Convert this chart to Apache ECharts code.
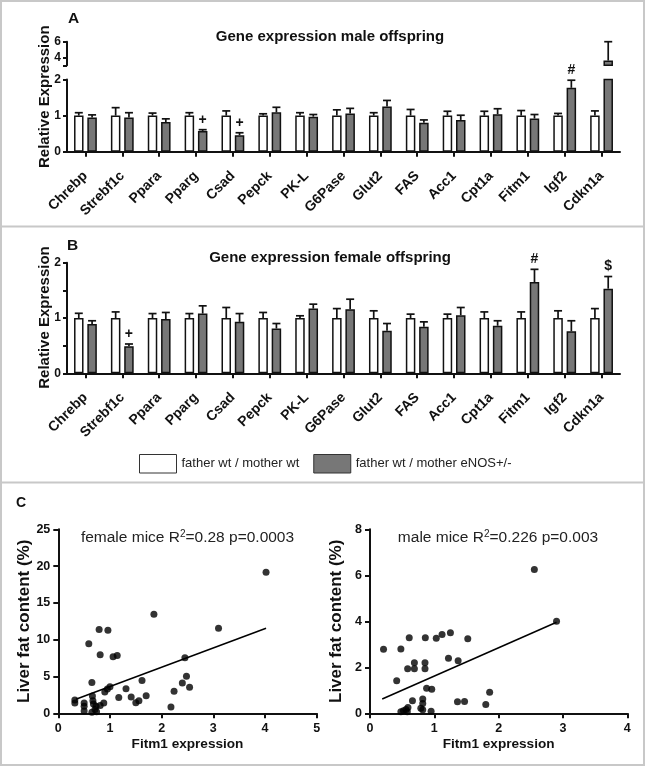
<!DOCTYPE html>
<html><head><meta charset="utf-8">
<script src="https://cdn.jsdelivr.net/npm/echarts@6/dist/echarts.min.js"></script>
<style>html,body{margin:0;padding:0;background:#fff}#c{width:646px;height:768px}</style>
</head><body><div id="c"></div>
<script>
// ---------- DATA ----------
const genes = ['Chrebp','Strebf1c','Ppara','Pparg','Csad','Pepck','PK-L','G6Pase','Glut2','FAS','Acc1','Cpt1a','Fitm1','Igf2','Cdkn1a'];
const seriesNames = ['father wt / mother wt', 'father wt / mother eNOS+/-'];

// Panel A: male offspring (mean and top of error bar)
const maleWt       = [1,1,1,1,1,1,1,1,1,1,1,1,1,1,1];
const maleWtErr    = [1.08,1.22,1.07,1.08,1.13,1.05,1.08,1.16,1.08,1.17,1.12,1.12,1.14,1.06,1.13];
const maleEnos     = [0.95,0.95,0.82,0.575,0.455,1.09,0.97,1.06,1.25,0.80,0.88,1.04,0.92,1.77,3.6];
const maleEnosErr  = [1.02,1.08,0.91,0.61,0.525,1.23,1.03,1.20,1.42,0.88,1.01,1.19,1.03,1.98,6.0];
const maleSig      = ['','','','+','+','','','','','','','','','#',''];

// Panel B: female offspring
const femaleWt      = [1,1,1,1,1,1,1,1,1,1,1,1,1,1,1];
const femaleWtErr   = [1.085,1.11,1.08,1.08,1.19,1.10,1.04,1.17,1.13,1.07,1.07,1.11,1.11,1.13,1.17];
const femaleEnos    = [0.89,0.49,0.98,1.08,0.93,0.81,1.17,1.16,0.77,0.84,1.05,0.86,1.65,0.76,1.53];
const femaleEnosErr = [0.95,0.53,1.10,1.22,1.08,0.90,1.25,1.34,0.90,0.93,1.19,0.95,1.88,0.95,1.75];
const femaleSig     = ['','+','','','','','','','','','','','#','','$'];

// Axis ticks
const aLowerTicks = [0,1,2];
const aUpperTicks = [3,4,6];
const aUpperLabels = [4,6];

// Panel C: scatter, Fitm1 expression vs liver fat content
const femaleX = [0.32,0.32,0.50,0.50,0.50,0.59,0.65,0.66,0.67,0.68,0.71,0.65,0.73,0.74,0.79,0.81,0.81,0.88,0.90,0.95,0.96,1.00,1.06,1.14,1.17,1.31,1.41,1.50,1.56,1.62,1.70,1.85,2.18,2.24,2.40,2.45,2.48,2.54,3.10,4.02];
const femaleY = [1.80,1.40,1.40,0.95,0.30,9.45,4.20,2.35,1.70,1.25,0.50,0.15,0.95,0.20,11.40,7.95,1.05,1.40,2.90,3.30,11.30,3.60,7.70,7.85,2.15,3.35,2.20,1.45,1.70,4.45,2.40,13.45,0.85,3.00,4.10,7.55,5.05,3.55,11.55,19.15];
const femaleFitX = [0.34, 4.02];
const femaleFitY = [1.90, 11.55];

const maleX = [0.21,0.48,0.61,0.86,1.03,1.12,1.25,1.52,1.22,1.37,0.69,0.69,0.585,0.855,0.855,0.415,0.88,0.96,0.66,0.82,0.82,1.36,1.47,1.86,1.80,0.79,0.82,0.48,0.52,0.56,0.59,0.58,0.95,2.555,2.90];
const maleY = [2.78,2.80,3.29,3.29,3.26,3.43,3.50,3.24,2.39,2.29,2.20,1.94,1.94,2.20,1.94,1.42,1.09,1.05,0.55,0.62,0.43,0.50,0.51,0.91,0.38,0.22,0.15,0.07,0.11,0.17,0.25,0.07,0.09,6.25,4.00];
const maleFitX = [0.19, 2.90];
const maleFitY = [0.62, 3.96];

// ---------- STYLE ----------
const FF = '"Liberation Sans", Arial, Helvetica, sans-serif';
const INK = '#111';
const GREY = '#777';
const BAR_W = 9.5;
const OFFSET = 6.65;

const chart = echarts.init(document.getElementById('c'), null, {renderer: 'canvas'});

function barSeries(name, idx, values, color) {
  return {
    name, type: 'bar', xAxisIndex: idx, yAxisIndex: idx,
    data: values, barWidth: BAR_W, barGap: '40%', clip: true,
    itemStyle: {color, borderColor: INK, borderWidth: 1.5},
    emphasis: {disabled: true}, z: 3
  };
}

function errSeries(idx, means, errs, sigs, offset) {
  return {
    type: 'custom', xAxisIndex: idx, yAxisIndex: idx, z: 4,
    data: means.map((m, i) => [i, m, errs[i]]),
    renderItem(params, api) {
      const i = api.value(0), m = api.value(1), e = api.value(2);
      const cs = params.coordSys;
      const top = cs.y, bottom = cs.y + cs.height;
      const p0 = api.coord([i, m]), p1 = api.coord([i, e]);
      const x = p0[0] + offset;
      let y0 = p0[1];
      const y1 = p1[1];
      if (y0 < top - 0.5) return null;
      if (y1 > bottom) return null;
      y0 = Math.min(y0, bottom);
      const st = {stroke: INK, lineWidth: 1.7};
      const children = [
        {type: 'line', shape: {x1: x, y1: y0, x2: x, y2: y1}, style: st},
        {type: 'line', shape: {x1: x - 4, y1: y1, x2: x + 4, y2: y1}, style: st}
      ];
      if (sigs && sigs[i]) {
        children.push({type: 'text', x: x, y: y1 - 10,
          style: {text: sigs[i], fontSize: 14, fontWeight: 'bold', fontFamily: FF, fill: INK, align: 'center', verticalAlign: 'middle'}});
      }
      return {type: 'group', children};
    }
  };
}

const axisLineStyle = {show: true, lineStyle: {color: INK, width: 2}};
const tickStyle = (len) => ({show: true, length: len, lineStyle: {color: INK, width: 2}});

function catAxis(idx) {
  return {
    gridIndex: idx, type: 'category', data: genes,
    axisLine: axisLineStyle, axisTick: Object.assign(tickStyle(5), {alignWithLabel: true}),
    axisLabel: {rotate: 45, margin: 22, interval: 0, fontSize: 14, fontWeight: 'bold', fontFamily: FF, color: INK},
    splitLine: {show: false}
  };
}

const option = {
  animation: false,
  backgroundColor: '#fff',
  textStyle: {fontFamily: FF},
  grid: [
    {left: 67, top: 79.5, width: 553, height: 72.2},
    {left: 67, top: 41.7, width: 553, height: 23.6},
    {left: 67, top: 262.7, width: 553, height: 110.6},
    {left: 58.3, top: 529.3, width: 258.4, height: 184},
    {left: 370, top: 529.3, width: 257.3, height: 184}
  ],
  legend: {
    data: seriesNames, left: 139, top: 454, padding: 0, itemWidth: 37, itemHeight: 18.5, itemGap: 14,
    icon: 'rect', selectedMode: false,
    itemStyle: {borderWidth: 1, borderColor: '#333'},
    textStyle: {fontSize: 13, fontFamily: FF, color: '#222'}
  },
  xAxis: [
    catAxis(0),
    {gridIndex: 1, type: 'category', data: genes, show: false},
    catAxis(2),
    {gridIndex: 3, type: 'value', min: 0, max: 5, interval: 1,
      axisLine: axisLineStyle, axisTick: tickStyle(5), splitLine: {show: false},
      axisLabel: {margin: 9, fontSize: 12.5, fontWeight: 'bold', fontFamily: FF, color: INK},
      name: 'Fitm1 expression', nameLocation: 'middle', nameGap: 24,
      nameTextStyle: {fontSize: 13.6, fontWeight: 'bold', fontFamily: FF, color: INK}},
    {gridIndex: 4, type: 'value', min: 0, max: 4, interval: 1,
      axisLine: axisLineStyle, axisTick: tickStyle(5), splitLine: {show: false},
      axisLabel: {margin: 9, fontSize: 12.5, fontWeight: 'bold', fontFamily: FF, color: INK},
      name: 'Fitm1 expression', nameLocation: 'middle', nameGap: 24,
      nameTextStyle: {fontSize: 13.6, fontWeight: 'bold', fontFamily: FF, color: INK}}
  ],
  yAxis: [
    {gridIndex: 0, type: 'value', min: 0, max: 2, interval: 1,
      axisLine: axisLineStyle, axisTick: Object.assign(tickStyle(4), {customValues: aLowerTicks}), splitLine: {show: false},
      axisLabel: {customValues: aLowerTicks, margin: 6, fontSize: 12, fontWeight: 'bold', fontFamily: FF, color: INK}},
    {gridIndex: 1, type: 'value', min: 3, max: 6,
      axisLine: axisLineStyle, axisTick: Object.assign(tickStyle(4), {customValues: aUpperTicks}), splitLine: {show: false},
      axisLabel: {customValues: aUpperLabels, margin: 6, fontSize: 12, fontWeight: 'bold', fontFamily: FF, color: INK}},
    {gridIndex: 2, type: 'value', min: 0, max: 2, interval: 0.5,
      axisLine: axisLineStyle, axisTick: tickStyle(4), splitLine: {show: false},
      axisLabel: {margin: 6, fontSize: 12, fontWeight: 'bold', fontFamily: FF, color: INK,
        formatter: v => (Number.isInteger(v) ? String(v) : '')}},
    {gridIndex: 3, type: 'value', min: 0, max: 25, interval: 5,
      axisLine: axisLineStyle, axisTick: tickStyle(5), splitLine: {show: false},
      axisLabel: {margin: 8, fontSize: 12.5, fontWeight: 'bold', fontFamily: FF, color: INK},
      name: 'Liver fat content (%)', nameLocation: 'middle', nameGap: 25,
      nameTextStyle: {fontSize: 17, fontWeight: 'bold', fontFamily: FF, color: INK}},
    {gridIndex: 4, type: 'value', min: 0, max: 8, interval: 2,
      axisLine: axisLineStyle, axisTick: tickStyle(5), splitLine: {show: false},
      axisLabel: {margin: 8, fontSize: 12.5, fontWeight: 'bold', fontFamily: FF, color: INK},
      name: 'Liver fat content (%)', nameLocation: 'middle', nameGap: 25,
      nameTextStyle: {fontSize: 17, fontWeight: 'bold', fontFamily: FF, color: INK}}
  ],
  series: [
    barSeries(seriesNames[0], 0, maleWt, '#fff'),
    barSeries(seriesNames[1], 0, maleEnos, GREY),
    barSeries(seriesNames[0], 1, maleWt, '#fff'),
    barSeries(seriesNames[1], 1, maleEnos, GREY),
    barSeries(seriesNames[0], 2, femaleWt, '#fff'),
    barSeries(seriesNames[1], 2, femaleEnos, GREY),
    errSeries(0, maleWt, maleWtErr, null, -OFFSET),
    errSeries(0, maleEnos, maleEnosErr, maleSig, OFFSET),
    errSeries(1, maleEnos, maleEnosErr, maleSig, OFFSET),
    errSeries(2, femaleWt, femaleWtErr, null, -OFFSET),
    errSeries(2, femaleEnos, femaleEnosErr, femaleSig, OFFSET),
    {type: 'scatter', xAxisIndex: 3, yAxisIndex: 3, symbolSize: 7, itemStyle: {color: '#000'},
      data: femaleX.map((x, i) => [x, femaleY[i]])},
    {type: 'line', xAxisIndex: 3, yAxisIndex: 3, symbol: 'none', lineStyle: {color: '#000', width: 1.5},
      data: femaleFitX.map((x, i) => [x, femaleFitY[i]])},
    {type: 'scatter', xAxisIndex: 4, yAxisIndex: 4, symbolSize: 7, itemStyle: {color: '#000'},
      data: maleX.map((x, i) => [x, maleY[i]])},
    {type: 'line', xAxisIndex: 4, yAxisIndex: 4, symbol: 'none', lineStyle: {color: '#000', width: 1.5},
      data: maleFitX.map((x, i) => [x, maleFitY[i]])}
  ],
  graphic: [
    {type: 'rect', shape: {x: 1, y: 1, width: 643, height: 764}, style: {fill: 'none', stroke: '#c8c8c8', lineWidth: 2}, z: 100},
    {type: 'line', shape: {x1: 0, y1: 226.5, x2: 645, y2: 226.5}, style: {stroke: '#c8c8c8', lineWidth: 2}, z: 100},
    {type: 'line', shape: {x1: 0, y1: 482.5, x2: 645, y2: 482.5}, style: {stroke: '#c8c8c8', lineWidth: 2}, z: 100},
    {type: 'text', x: 68, y: 19, style: {text: 'A', fontSize: 15.5, fontWeight: 'bold', fontFamily: FF, fill: INK, verticalAlign: 'middle'}},
    {type: 'text', x: 67, y: 246, style: {text: 'B', fontSize: 15.5, fontWeight: 'bold', fontFamily: FF, fill: INK, verticalAlign: 'middle'}},
    {type: 'text', x: 16, y: 503.5, style: {text: 'C', fontSize: 14, fontWeight: 'bold', fontFamily: FF, fill: INK, verticalAlign: 'middle'}},
    {type: 'text', x: 330, y: 36.7, style: {text: 'Gene expression male offspring', fontSize: 15, fontWeight: 'bold', fontFamily: FF, fill: INK, align: 'center', verticalAlign: 'middle'}},
    {type: 'text', x: 330, y: 258.3, style: {text: 'Gene expression female offspring', fontSize: 15, fontWeight: 'bold', fontFamily: FF, fill: INK, align: 'center', verticalAlign: 'middle'}},
    {type: 'text', x: 44.5, y: 96.7, rotation: Math.PI / 2, style: {text: 'Relative Expression', fontSize: 15, fontWeight: 'bold', fontFamily: FF, fill: INK, align: 'center', verticalAlign: 'middle'}},
    {type: 'text', x: 44.5, y: 317.5, rotation: Math.PI / 2, style: {text: 'Relative Expression', fontSize: 15, fontWeight: 'bold', fontFamily: FF, fill: INK, align: 'center', verticalAlign: 'middle'}},
    {type: 'text', x: 187.5, y: 538, style: {
      text: '{n|female mice R}{s|2}{n|=0.28 p=0.0003}', align: 'center', verticalAlign: 'middle', fill: '#222',
      rich: {n: {fontSize: 15.5, fontFamily: FF, fill: '#222', lineHeight: 18}, s: {fontSize: 10, fontFamily: FF, fill: '#222', verticalAlign: 'top', lineHeight: 12}}}},
    {type: 'text', x: 498, y: 538, style: {
      text: '{n|male mice R}{s|2}{n|=0.226 p=0.003}', align: 'center', verticalAlign: 'middle', fill: '#222',
      rich: {n: {fontSize: 15.5, fontFamily: FF, fill: '#222', lineHeight: 18}, s: {fontSize: 10, fontFamily: FF, fill: '#222', verticalAlign: 'top', lineHeight: 12}}}}
  ]
};
chart.setOption(option);
</script>
</body></html>
